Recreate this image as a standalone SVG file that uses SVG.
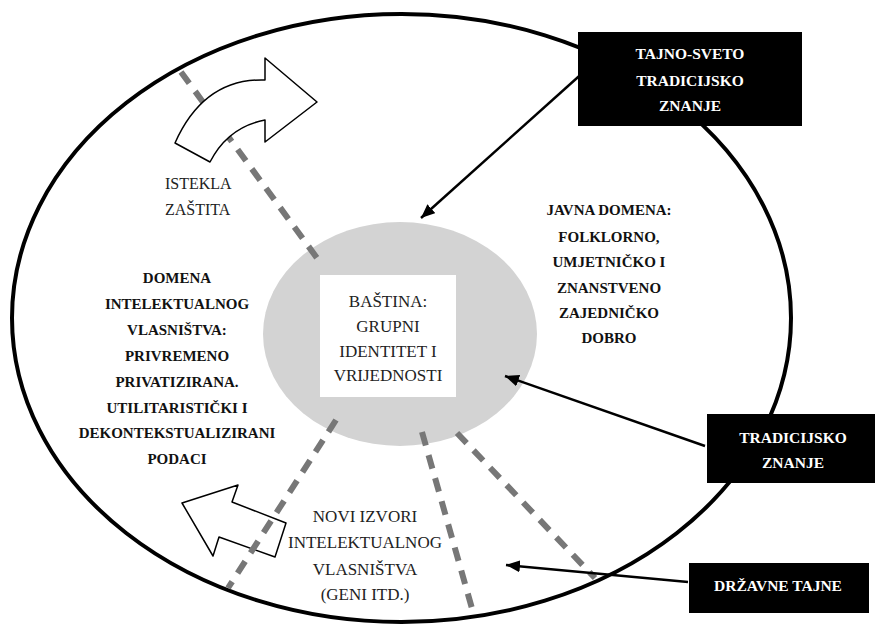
<svg xmlns="http://www.w3.org/2000/svg" width="875" height="625" viewBox="0 0 875 625">
<style>
.lbl{font-family:"Liberation Serif",serif;fill:#222;text-anchor:middle;font-size:17px}
.lft{text-anchor:start;font-size:16px}
.bold{font-family:"Liberation Serif",serif;font-weight:bold;fill:#111;text-anchor:middle;font-size:15px}
.boxt{font-family:"Liberation Serif",serif;font-weight:bold;fill:#fff;text-anchor:middle;font-size:15.5px}
.dash{stroke:#777;stroke-width:6;stroke-dasharray:14 10;fill:none}
.conn{stroke:#000;stroke-width:2.5;fill:none}
.warrow{fill:#fff;stroke:#000;stroke-width:1.5;stroke-linejoin:round}
</style>
<defs>
<marker id="ah" viewBox="0 0 14 12" refX="14" refY="6" markerWidth="14" markerHeight="12" markerUnits="userSpaceOnUse" orient="auto">
<path d="M0,0 L14,6 L0,12 z" fill="#000"/>
</marker>
</defs>
<rect width="875" height="625" fill="#fff"/>
<g id="outer">
<ellipse cx="401.5" cy="318" rx="389.5" ry="304" fill="none" stroke="#000" stroke-width="4"/>
</g>
<g id="core">
<ellipse cx="400" cy="334" rx="137" ry="112" fill="#d3d3d3"/>
<rect x="320" y="275" width="136" height="122" fill="#fff"/>
<text class="lbl" x="388" y="307" font-size="17.5">BAŠTINA:</text>
<text class="lbl" x="388" y="332" font-size="17.5">GRUPNI</text>
<text class="lbl" x="388" y="357" font-size="17.5">IDENTITET I</text>
<text class="lbl" x="388" y="381" font-size="17.5">VRIJEDNOSTI</text>
</g>
<g id="new-sources-arrow">
<path class="warrow" d="M182,503 L238,485 L232,502 L286,523 L275,557 L219,537 L213,556 Z"/>
</g>
<g id="dividers">
<line class="dash" x1="181" y1="72" x2="317" y2="258"/>
<line class="dash" x1="336" y1="420" x2="228" y2="588"/>
<line class="dash" x1="422" y1="432" x2="473" y2="612"/>
<line class="dash" x1="457" y1="433" x2="595" y2="578"/>
</g>
<g id="expired-arrow">
<path class="warrow" d="M175,143 Q204,78 265,80 L265,58 L317,102 L265,142 L265,120 Q228,127 210,162 Z"/>
<text class="lbl lft" x="165" y="189">ISTEKLA</text>
<text class="lbl lft" x="165" y="215">ZAŠTITA</text>
</g>
<g id="new-sources">
<text class="lbl" x="365" y="522">NOVI IZVORI</text>
<text class="lbl" x="365" y="548">INTELEKTUALNOG</text>
<text class="lbl" x="365" y="575">VLASNIŠTVA</text>
<text class="lbl" x="365" y="600">(GENI ITD.)</text>
</g>
<g id="ip-domain">
<text class="bold" x="177" y="283">DOMENA</text>
<text class="bold" x="177" y="309">INTELEKTUALNOG</text>
<text class="bold" x="177" y="335">VLASNIŠTVA:</text>
<text class="bold" x="177" y="361">PRIVREMENO</text>
<text class="bold" x="177" y="387">PRIVATIZIRANA.</text>
<text class="bold" x="177" y="413">UTILITARISTIČKI I</text>
<text class="bold" x="177" y="438">DEKONTEKSTUALIZIRANI</text>
<text class="bold" x="177" y="464">PODACI</text>
</g>
<g id="public-domain">
<text class="bold" x="609" y="215">JAVNA DOMENA:</text>
<text class="bold" x="609" y="242">FOLKLORNO,</text>
<text class="bold" x="609" y="267">UMJETNIČKO I</text>
<text class="bold" x="609" y="293">ZNANSTVENO</text>
<text class="bold" x="609" y="318">ZAJEDNIČKO</text>
<text class="bold" x="609" y="343">DOBRO</text>
</g>
<g id="connectors">
<line class="conn" x1="587" y1="69" x2="421" y2="218" marker-end="url(#ah)"/>
<line class="conn" x1="705" y1="446" x2="505" y2="376" marker-end="url(#ah)"/>
<line class="conn" x1="688" y1="582" x2="506" y2="565" marker-end="url(#ah)"/>
</g>
<g id="secret-knowledge">
<rect x="578" y="32" width="224" height="94" fill="#000"/>
<text class="boxt" x="690" y="59">TAJNO-SVETO</text>
<text class="boxt" x="690" y="86">TRADICIJSKO</text>
<text class="boxt" x="690" y="111">ZNANJE</text>
</g>
<g id="traditional-knowledge">
<rect x="707" y="414" width="168" height="69" fill="#000"/>
<text class="boxt" x="793" y="443">TRADICIJSKO</text>
<text class="boxt" x="793" y="468">ZNANJE</text>
</g>
<g id="state-secrets">
<rect x="689" y="563" width="180" height="50" fill="#000"/>
<text class="boxt" x="778" y="591">DRŽAVNE TAJNE</text>
</g>
</svg>
